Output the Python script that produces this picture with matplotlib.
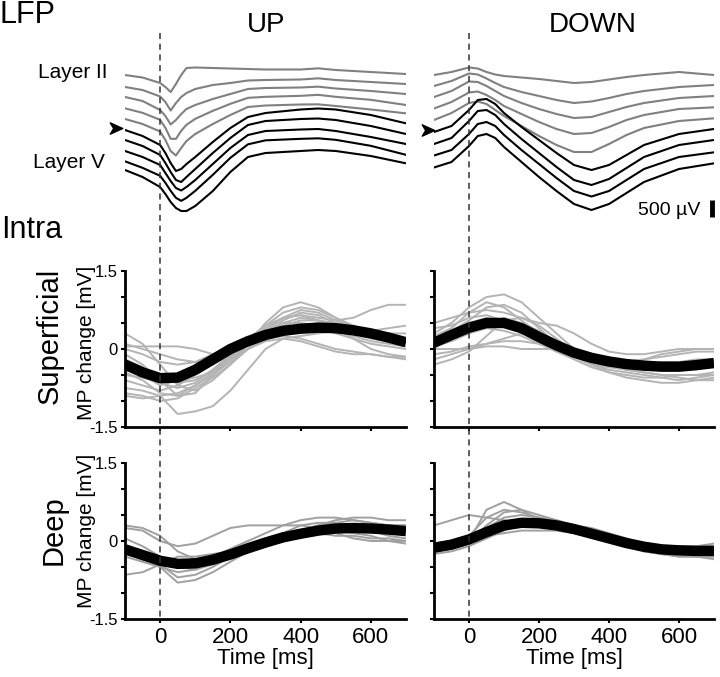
import numpy as np
import matplotlib
matplotlib.use('Agg')
import matplotlib.pyplot as plt
from matplotlib.path import Path
from matplotlib.lines import Line2D
import matplotlib.transforms as mtransforms

plt.rcParams['font.family'] = 'Liberation Sans'

# ── LFP traces (µV, relative to each trace's start), stacked by offsets ──────
T_LFP_UP = [-100, -50, 0, 15, 30, 45, 60, 75, 100, 150, 200, 250, 300, 400, 450, 500, 600, 700]
LFP_UP = [
    [0, -75, -240, -360, -510, -270, 0, 210, 225, 210, 195, 180, 165, 165, 200, 150, 90, 30],
    [0, -90, -285, -450, -705, -480, -300, -180, -60, 60, 120, 195, 210, 225, 260, 210, 150, 90],
    [0, -120, -390, -570, -825, -690, -510, -360, -240, -60, 90, 240, 270, 285, 310, 255, 180, 90],
    [0, -135, -345, -585, -915, -915, -675, -495, -315, -75, 135, 315, 345, 375, 405, 345, 255, 100],
    [0, -150, -375, -630, -960, -1095, -870, -660, -450, -150, 120, 360, 405, 435, 440, 390, 285, 170],
    [0, -180, -450, -690, -990, -1230, -1170, -1020, -810, -360, 60, 390, 510, 615, 645, 615, 450, 200],
    [0, -180, -450, -690, -960, -1200, -1260, -1110, -870, -390, 60, 450, 570, 630, 645, 600, 420, 180],
    [0, -180, -420, -660, -900, -1110, -1185, -1080, -870, -390, 90, 480, 600, 645, 660, 600, 420, 210],
    [0, -195, -435, -645, -885, -1095, -1185, -1095, -885, -405, 105, 510, 630, 675, 690, 645, 465, 195],
    [0, -210, -510, -720, -960, -1140, -1230, -1230, -1080, -630, -60, 390, 510, 570, 600, 570, 420, 200],
]
OFFSETS_UP = [0, -360, -660, -1000, -1320, -1650, -1950, -2280, -2590, -2850]
N_GRAY_UP = 5

T_LFP_DOWN = [-100, -50, 0, 25, 50, 75, 100, 150, 200, 250, 300, 350, 400, 450, 500, 600, 700]
LFP_DOWN = [
    [0, 90, 225, 195, 90, 15, -30, -75, -120, -180, -240, -210, -135, -60, 0, 90, 0],
    [0, 150, 375, 345, 225, 90, -30, -180, -300, -420, -510, -465, -360, -240, -150, -30, 30],
    [0, 180, 465, 450, 330, 180, 30, -180, -360, -510, -630, -600, -450, -300, -180, -30, 30],
    [0, 195, 480, 510, 405, 255, 75, -165, -405, -615, -765, -735, -555, -345, -195, -15, 35],
    [0, 210, 510, 555, 480, 300, 120, -180, -480, -750, -960, -960, -720, -450, -240, -30, 50],
    [0, 180, 660, 960, 990, 840, 570, 150, -240, -630, -990, -1140, -990, -690, -390, -60, 90],
    [0, 180, 690, 990, 1020, 870, 600, 150, -270, -690, -1080, -1230, -1050, -720, -390, -30, 120],
    [0, 165, 645, 945, 1005, 885, 615, 165, -255, -675, -1065, -1230, -1065, -735, -405, -45, 95],
    [0, 165, 645, 945, 1005, 885, 615, 165, -285, -705, -1095, -1275, -1095, -765, -435, -45, 125],
]
OFFSETS_DOWN = [0, -330, -660, -1005, -1350, -1710, -2070, -2415, -2775]
N_GRAY_DOWN = 5
ARROW_TRACE = 5
SCALE_UV = 500

# ── Intracellular MP change (mV) ─────────────────────────────────────────────
T_INTRA = [-100, -50, 0, 50, 100, 150, 200, 250, 300, 350, 400, 450, 500, 550, 600, 650, 700]

SUP_UP_MEAN = [-0.3, -0.45, -0.56, -0.55, -0.4, -0.2, 0.0, 0.15, 0.27, 0.35, 0.39, 0.41, 0.4, 0.36, 0.3, 0.22, 0.13]
SUP_UP = [
    [0.3, 0.1, -0.3, -0.7, -0.8, -0.6, -0.3, 0.1, 0.5, 0.8, 0.9, 0.8, 0.6, 0.4, 0.3, 0.25, 0.2],
    [0.05, 0.05, 0.05, 0.05, 0.0, -0.1, -0.15, 0.0, 0.3, 0.55, 0.7, 0.65, 0.5, 0.35, 0.25, 0.2, 0.15],
    [-0.1, -0.3, -0.6, -0.9, -0.85, -0.5, -0.2, 0.1, 0.4, 0.6, 0.65, 0.6, 0.55, 0.6, 0.75, 0.85, 0.85],
    [-0.9, -0.95, -0.9, -1.25, -1.2, -1.1, -0.8, -0.4, 0.0, 0.2, 0.25, 0.3, 0.35, 0.3, 0.25, 0.2, 0.15],
    [-0.6, -0.7, -0.8, -0.7, -0.5, -0.3, -0.1, 0.1, 0.3, 0.5, 0.6, 0.55, 0.4, 0.2, 0.0, -0.1, -0.15],
    [-0.4, -0.5, -0.7, -0.6, -0.45, -0.3, -0.05, 0.2, 0.45, 0.6, 0.65, 0.55, 0.45, 0.3, 0.2, 0.15, 0.1],
    [0.0, -0.1, -0.25, -0.3, -0.25, -0.1, 0.0, 0.1, 0.2, 0.25, 0.2, 0.1, 0.0, -0.05, -0.1, -0.15, -0.2],
    [-0.2, -0.35, -0.5, -0.6, -0.55, -0.45, -0.2, 0.0, 0.2, 0.35, 0.45, 0.5, 0.45, 0.35, 0.3, 0.3, 0.3],
    [-0.75, -0.8, -0.9, -0.85, -0.7, -0.5, -0.25, 0.0, 0.25, 0.4, 0.45, 0.4, 0.3, 0.2, 0.1, 0.05, 0.0],
    [-0.5, -0.55, -0.65, -0.75, -0.65, -0.4, -0.1, 0.15, 0.35, 0.5, 0.5, 0.45, 0.35, 0.25, 0.15, 0.1, 0.05],
    [0.1, 0.0, -0.1, -0.2, -0.25, -0.25, -0.15, 0.0, 0.15, 0.2, 0.15, 0.05, -0.05, -0.1, -0.1, -0.15, -0.15],
    [-0.3, -0.4, -0.55, -0.65, -0.6, -0.4, -0.15, 0.1, 0.3, 0.45, 0.55, 0.55, 0.5, 0.4, 0.35, 0.4, 0.45],
    [-0.85, -0.9, -1.0, -0.95, -0.75, -0.55, -0.3, 0.0, 0.35, 0.6, 0.75, 0.7, 0.55, 0.4, 0.3, 0.2, 0.1],
    [-0.45, -0.6, -0.85, -0.9, -0.7, -0.45, -0.15, 0.15, 0.45, 0.7, 0.8, 0.75, 0.6, 0.45, 0.3, 0.2, 0.1],
]

SUP_DOWN_MEAN = [0.12, 0.27, 0.41, 0.5, 0.5, 0.4, 0.23, 0.07, -0.07, -0.17, -0.24, -0.29, -0.32, -0.34, -0.34, -0.31, -0.27]
SUP_DOWN = [
    [0.3, 0.5, 0.8, 1.0, 1.05, 0.9, 0.6, 0.3, 0.0, -0.2, -0.3, -0.4, -0.45, -0.5, -0.55, -0.6, -0.6],
    [0.5, 0.6, 0.7, 0.75, 0.7, 0.6, 0.5, 0.45, 0.3, 0.1, -0.05, -0.1, -0.1, -0.05, 0.0, 0.0, 0.0],
    [0.0, 0.0, 0.0, 0.05, 0.05, 0.0, 0.0, 0.0, -0.1, -0.2, -0.3, -0.35, -0.4, -0.4, -0.35, -0.3, -0.25],
    [-0.2, -0.1, 0.0, 0.1, 0.2, 0.3, 0.25, 0.1, -0.1, -0.3, -0.45, -0.55, -0.6, -0.65, -0.65, -0.6, -0.55],
    [0.2, 0.35, 0.55, 0.8, 0.85, 0.7, 0.4, 0.1, -0.15, -0.3, -0.35, -0.4, -0.45, -0.5, -0.5, -0.5, -0.45],
    [0.1, 0.2, 0.3, 0.4, 0.35, 0.25, 0.1, -0.05, -0.15, -0.2, -0.25, -0.3, -0.3, -0.25, -0.25, -0.2, -0.2],
    [-0.3, -0.2, -0.05, 0.25, 0.55, 0.6, 0.45, 0.2, -0.05, -0.25, -0.35, -0.35, -0.3, -0.3, -0.3, -0.25, -0.2],
    [0.4, 0.45, 0.6, 0.65, 0.55, 0.4, 0.25, 0.05, -0.1, -0.15, -0.2, -0.25, -0.2, -0.15, -0.1, -0.05, -0.05],
    [0.15, 0.3, 0.5, 0.6, 0.55, 0.4, 0.15, -0.05, -0.2, -0.35, -0.45, -0.5, -0.55, -0.55, -0.5, -0.5, -0.5],
    [-0.1, -0.05, 0.05, 0.1, 0.15, 0.15, 0.1, 0.0, -0.1, -0.2, -0.3, -0.35, -0.35, -0.3, -0.3, -0.25, -0.25],
    [0.25, 0.4, 0.7, 0.9, 0.8, 0.55, 0.3, 0.05, -0.15, -0.3, -0.4, -0.45, -0.5, -0.55, -0.6, -0.55, -0.5],
    [0.05, 0.15, 0.3, 0.5, 0.6, 0.5, 0.35, 0.15, 0.0, -0.1, -0.2, -0.25, -0.2, -0.1, -0.05, 0.0, 0.0],
]

DEEP_UP_MEAN = [-0.16, -0.27, -0.38, -0.44, -0.43, -0.36, -0.26, -0.14, -0.03, 0.07, 0.14, 0.2, 0.24, 0.25, 0.24, 0.22, 0.19]
DEEP_UP = [
    [0.3, 0.25, 0.1, -0.2, -0.35, -0.3, -0.15, 0.0, 0.15, 0.3, 0.4, 0.45, 0.45, 0.4, 0.35, 0.3, 0.3],
    [0.25, 0.2, 0.0, -0.1, -0.05, 0.1, 0.25, 0.3, 0.3, 0.3, 0.3, 0.25, 0.15, 0.05, 0.0, 0.0, 0.0],
    [-0.65, -0.6, -0.45, -0.3, -0.3, -0.25, -0.2, -0.1, 0.0, 0.1, 0.2, 0.3, 0.35, 0.4, 0.35, 0.3, 0.3],
    [-0.1, -0.25, -0.5, -0.8, -0.75, -0.6, -0.4, -0.2, 0.0, 0.15, 0.3, 0.35, 0.35, 0.3, 0.2, 0.1, 0.05],
    [-0.3, -0.4, -0.5, -0.6, -0.55, -0.4, -0.3, -0.15, 0.0, 0.1, 0.15, 0.2, 0.2, 0.15, 0.1, 0.0, -0.05],
    [0.05, -0.1, -0.3, -0.5, -0.55, -0.45, -0.3, -0.15, 0.0, 0.1, 0.2, 0.3, 0.4, 0.45, 0.45, 0.4, 0.4],
    [-0.2, -0.35, -0.45, -0.7, -0.65, -0.5, -0.3, -0.1, 0.05, 0.15, 0.2, 0.15, 0.1, 0.1, 0.05, 0.05, 0.0],
]

DEEP_DOWN_MEAN = [-0.13, -0.07, 0.03, 0.17, 0.3, 0.35, 0.34, 0.3, 0.23, 0.14, 0.05, -0.04, -0.11, -0.16, -0.18, -0.19, -0.19]
DEEP_DOWN = [
    [0.3, 0.4, 0.5, 0.45, 0.4, 0.35, 0.3, 0.25, 0.2, 0.1, 0.0, -0.1, -0.2, -0.25, -0.3, -0.3, -0.3],
    [-0.2, -0.15, 0.0, 0.6, 0.75, 0.6, 0.4, 0.3, 0.2, 0.1, 0.0, -0.1, -0.15, -0.15, -0.15, -0.1, -0.1],
    [-0.15, -0.1, 0.0, 0.3, 0.55, 0.6, 0.5, 0.4, 0.3, 0.2, 0.1, 0.0, -0.05, -0.1, -0.1, -0.1, -0.05],
    [-0.25, -0.2, -0.1, 0.05, 0.2, 0.3, 0.35, 0.35, 0.3, 0.25, 0.15, 0.05, -0.05, -0.15, -0.2, -0.25, -0.2],
    [-0.05, 0.0, 0.1, 0.45, 0.6, 0.55, 0.45, 0.35, 0.25, 0.15, 0.05, -0.05, -0.15, -0.2, -0.25, -0.3, -0.3],
    [-0.2, -0.15, -0.05, 0.1, 0.15, 0.2, 0.2, 0.2, 0.15, 0.1, 0.0, -0.1, -0.2, -0.25, -0.3, -0.3, -0.35],
    [-0.1, -0.05, 0.05, 0.25, 0.45, 0.5, 0.45, 0.4, 0.3, 0.2, 0.1, 0.0, -0.05, -0.1, -0.15, -0.2, -0.2],
]

XTICKS = [0, 200, 400, 600]

W, H = 720, 677
fig = plt.figure(figsize=(W / 100, H / 100), dpi=100)


def px_axes(x0, y0, x1, y1):
    # axes placed by pixel box (top-left origin)
    return fig.add_axes([x0 / W, 1 - y1 / H, (x1 - x0) / W, (y1 - y0) / H])


COLS = [(125, 406), (434, 714)]

# arrowhead marker
arrow = Path([(-1, 0.9), (1, 0), (-1, -0.9), (-0.45, 0), (-1, 0.9)],
             [Path.MOVETO, Path.LINETO, Path.LINETO, Path.LINETO, Path.CLOSEPOLY])

# ── LFP panels ───────────────────────────────────────────────────────────────
for (x0, x1), t, traces, offs, ngray, arrow_x in [
        (COLS[0], T_LFP_UP, LFP_UP, OFFSETS_UP, N_GRAY_UP, -126),
        (COLS[1], T_LFP_DOWN, LFP_DOWN, OFFSETS_DOWN, N_GRAY_DOWN, -117)]:
    ax = px_axes(x0, 40, x1, 225)
    for i, (tr, off) in enumerate(zip(traces, offs)):
        col = '#808080' if i < ngray else 'black'
        ax.plot(t, np.array(tr) + off, color=col, lw=1.5, solid_capstyle='round')
    ax.plot([arrow_x], [offs[ARROW_TRACE] + 50], marker=arrow, ms=9,
            color='black', clip_on=False)
    ax.set_xlim(-100, 700)
    ax.set_ylim(-4500, 1050)
    ax.axis('off')
    lfp_ax = ax

# scale bar on the DOWN panel
lfp_ax.plot([694, 694], [-3750, -3750 - SCALE_UV], color='black', lw=3.5,
            solid_capstyle='butt', clip_on=False)
lfp_ax.text(662, -3750 - SCALE_UV / 2 - 60, '500 µV', ha='right', va='center',
            fontsize=14)


# ── Intracellular panels ─────────────────────────────────────────────────────
def intra_panel(ax, traces, mean, gray, show_x, show_y):
    for tr in traces:
        ax.plot(T_INTRA, tr, color=gray, lw=1.4)
    ax.plot(T_INTRA, mean, color='black', lw=7.5, solid_capstyle='butt',
            solid_joinstyle='round')
    ax.set_xlim(-100, 700)
    ax.set_ylim(-1.5, 1.5)
    for s in ['top', 'right']:
        ax.spines[s].set_visible(False)
    for s in ['left', 'bottom']:
        ax.spines[s].set_linewidth(2.0)
    ax.set_xticks(XTICKS)
    ax.set_yticks([-1.5, 0, 1.5])
    ax.set_yticks(np.arange(-1.5, 1.51, 0.5), minor=True)
    ax.tick_params(axis='both', which='both', direction='out', length=3,
                   width=1.5, pad=2)
    ax.tick_params(axis='x', labelsize=16, pad=3)
    ax.tick_params(axis='y', labelsize=12)
    if show_y:
        ax.set_yticklabels(['-1.5', '0', '1.5'])
    else:
        ax.set_yticklabels([])
    if show_x:
        ax.set_xticklabels([str(v) for v in XTICKS])
        ax.set_xlabel('Time [ms]', fontsize=16, labelpad=0)
    else:
        ax.set_xticklabels([])


rows = [(271, 427, [(SUP_UP, SUP_UP_MEAN), (SUP_DOWN, SUP_DOWN_MEAN)], '#b4b4b4', False),
        (463, 619, [(DEEP_UP, DEEP_UP_MEAN), (DEEP_DOWN, DEEP_DOWN_MEAN)], '#a0a0a0', True)]
bottom_axes = []
for y0, y1, pairs, gray, show_x in rows:
    for c, ((x0, x1), (traces, mean)) in enumerate(zip(COLS, pairs)):
        ax = px_axes(x0, y0, x1, y1)
        intra_panel(ax, traces, mean, gray, show_x, c == 0)
        if show_x:
            bottom_axes.append(ax)

# dashed stimulus-onset line across each column
for ax in bottom_axes:
    trans = mtransforms.blended_transform_factory(ax.transData, fig.transFigure)
    ax.add_line(Line2D([0, 0], [1 - 33 / H, 1 - 619 / H], transform=trans,
                       color='#333333', lw=1.1, linestyle=(0, (4, 3)),
                       clip_on=False))

# ── Labels ───────────────────────────────────────────────────────────────────
fig.text(0 / W, 1 - 15 / H, 'LFP', fontsize=22, ha='left', va='center')
fig.text(266 / W, 1 - 25 / H, 'UP', fontsize=20, ha='center', va='center')
fig.text(593 / W, 1 - 25 / H, 'DOWN', fontsize=20, ha='center', va='center')
fig.text(107 / W, 1 - 73 / H, 'Layer II', fontsize=15, ha='right', va='center')
fig.text(105 / W, 1 - 162 / H, 'Layer V', fontsize=15, ha='right', va='center')
fig.text(1 / W, 1 - 230 / H, 'Intra', fontsize=22, ha='left', va='center')
fig.text(50 / W, 1 - 336 / H, 'Superficial', fontsize=21, rotation=90,
         ha='center', va='center')
fig.text(54 / W, 1 - 530 / H, 'Deep', fontsize=21, rotation=90,
         ha='center', va='center')
for yc in [343, 531]:
    fig.text(86 / W, 1 - yc / H, 'MP change [mV]', fontsize=15, rotation=90,
             ha='center', va='center')

fig.savefig('out.png', dpi=100)
